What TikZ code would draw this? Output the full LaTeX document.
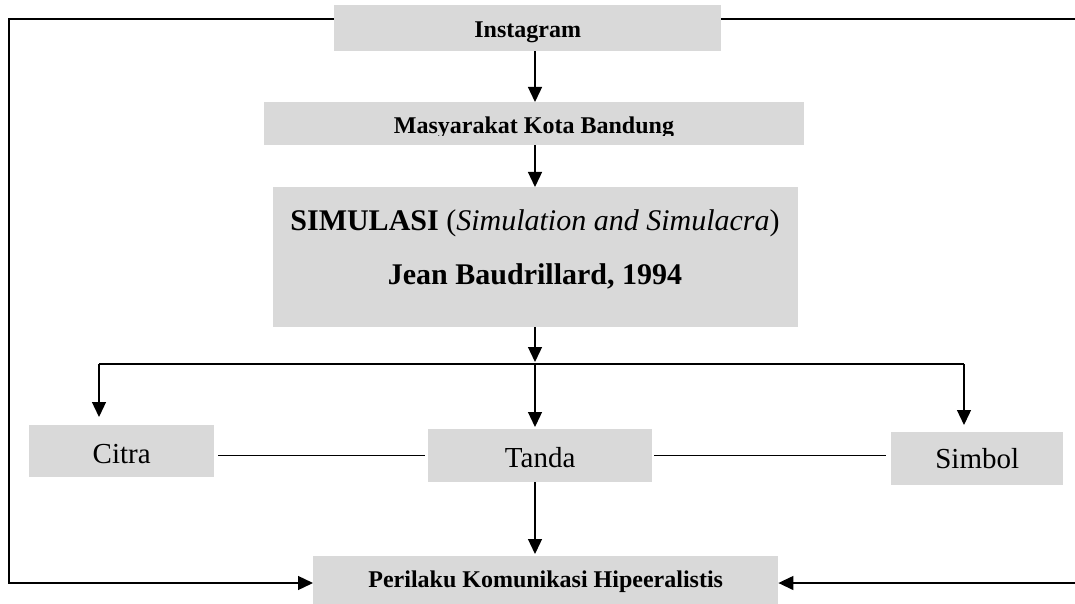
\documentclass[tikz,border=0pt]{standalone}
\usepackage{fontspec}
\setmainfont{Liberation Serif}
\usetikzlibrary{arrows.meta}
\definecolor{boxgray}{HTML}{D9D9D9}
\tikzset{
  gbox/.style={fill=boxgray, inner sep=0pt, anchor=north west},
  smallbold/.style={font=\fontsize{24}{28}\selectfont\bfseries},
  bigtext/.style={font=\fontsize{29}{34}\selectfont},
  conn/.style={line width=1.3pt, draw=black},
  arr/.style={conn, -{Triangle[width=14pt,length=15pt]}}
}
\begin{document}
\begin{tikzpicture}[x=1pt,y=-1pt]
\useasboundingbox (0,0) rectangle (1075,604);
% boxes
\node[gbox, smallbold, minimum width=387pt, text height=32pt, text depth=14pt] (insta) at (334,5) {Instagram};
\node[gbox, minimum width=540pt, minimum height=43pt] (masy) at (264,102) {};
\begin{scope}
\clip (264,102) rectangle (804,135.5);
\node[anchor=base, inner sep=0pt, smallbold] (masyt) at (534,134) {Masyarakat Kota Bandung};
\end{scope}
\node[gbox, minimum width=525pt, minimum height=140pt] (simul) at (273,187) {};
\node[anchor=base, inner sep=0pt, font=\fontsize{30}{36}\selectfont] (simt1) at (535,230) {\textbf{SIMULASI} (\textit{Simulation and Simulacra})};
\node[anchor=base, inner sep=0pt, font=\fontsize{30}{36}\selectfont\bfseries] (simt2) at (535,284) {Jean Baudrillard, 1994};
\node[gbox, bigtext, minimum width=185pt, text height=38pt, text depth=14pt] (citra) at (29,425) {Citra};
\node[gbox, bigtext, minimum width=224pt, text height=38pt, text depth=15pt] (tanda) at (428,429) {Tanda};
\node[gbox, bigtext, minimum width=172pt, text height=36pt, text depth=17pt] (simbol) at (891,432) {Simbol};
\node[gbox, smallbold, minimum width=465pt, text height=31pt, text depth=17pt] (peri) at (313,556) {Perilaku Komunikasi Hipeeralistis};
% helper coordinates
\coordinate (col) at (535,0);
\coordinate (j) at (535,364);
\coordinate (jl) at (99,364);
\coordinate (jr) at (964,364);
\coordinate (tl) at (9,19);
\coordinate (bl) at (9,583);
\coordinate (tr) at (1075,19);
\coordinate (br) at (1075,583);
% vertical flow
\draw[arr] (insta.south -| col) -- (masy.north -| col);
\draw[arr] (masy.south -| col) -- (simul.north -| col);
\draw[arr, shorten >=2pt] (simul.south -| col) -- (j);
\draw[conn] (jl) -- (jr);
\draw[arr, shorten >=8pt] (jl) -- (jl |- citra.north);
\draw[arr, shorten >=2pt] (j) -- (tanda.north -| col);
\draw[arr, shorten >=7pt] (jr) -- (jr |- simbol.north);
\draw[arr, shorten >=2pt] (tanda.south -| col) -- (peri.north -| col);
% horizontal links
\draw[conn, shorten <=4pt, shorten >=3pt] (citra.east |- tanda.center) -- (tanda.west);
\draw[conn, shorten <=2pt, shorten >=5pt] (tanda.east) -- (simbol.west |- tanda.center);
% feedback loops
\draw[arr] (insta.west |- tl) -- (tl) -- (bl) -- (peri.west |- bl);
\draw[conn] (insta.east |- tr) -- (tr);
\draw[arr] (br) -- (peri.east |- br);
\end{tikzpicture}
\end{document}
